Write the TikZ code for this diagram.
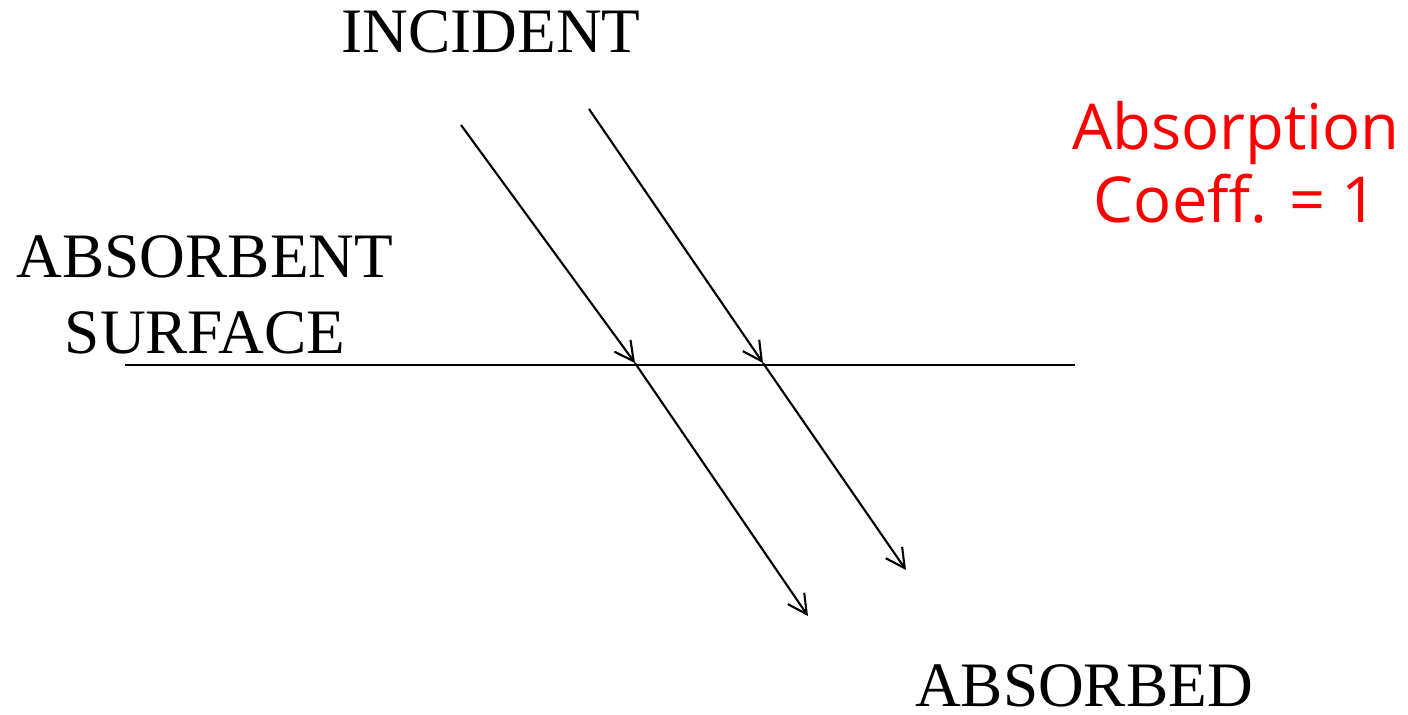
\documentclass[tikz,border=0pt]{standalone}
\usepackage{fontspec}
\setmainfont{Liberation Serif}
\newfontfamily\labelsans{Open Sans}
\usetikzlibrary{arrows.meta}

\begin{document}
\begin{tikzpicture}[
x=0.01cm, y=-0.01cm,
every node/.style={inner sep=0pt, anchor=base, font=\fontsize{18}{18}\selectfont},
caption/.style={align=center},
redtext/.style={text=red, align=center, font=\labelsans\fontsize{18}{20.5}\selectfont},
ray/.style={line width=0.6pt, -{Straight Barb[length=1.9mm, width=2mm, line width=0.6pt]}},
surface/.style={line width=0.5pt}
]
\useasboundingbox (0,0) rectangle (1408,715);

% labels
\node[caption] (incident) at (491,53) {INCIDENT};
\node[caption] (absorbent) at (205,277) {ABSORBENT};
\node[caption] (surface) at (205,353) {SURFACE};
\node[caption] (absorbed) at (1084,706) {ABSORBED};
\node[redtext] (coeff) at (1236,222) {Absorption\\Coeff. = 1};

% surface line
\coordinate (sl) at (125,365);
\coordinate (sr) at (1075,365);
\draw[surface] (sl) -- (sr);

% incoming rays
\coordinate (ina) at (461,125);
\coordinate (hita) at (635,363);
\coordinate (inb) at (589,109);
\coordinate (hitb) at (763,363);
\draw[ray] (ina) -- (hita);
\draw[ray] (inb) -- (hitb);

% transmitted rays
\coordinate (outa) at (808,616);
\coordinate (outb) at (906,570);
\draw[ray] (hita) -- (outa);
\draw[ray] (hitb) -- (outb);

\end{tikzpicture}
\end{document}
